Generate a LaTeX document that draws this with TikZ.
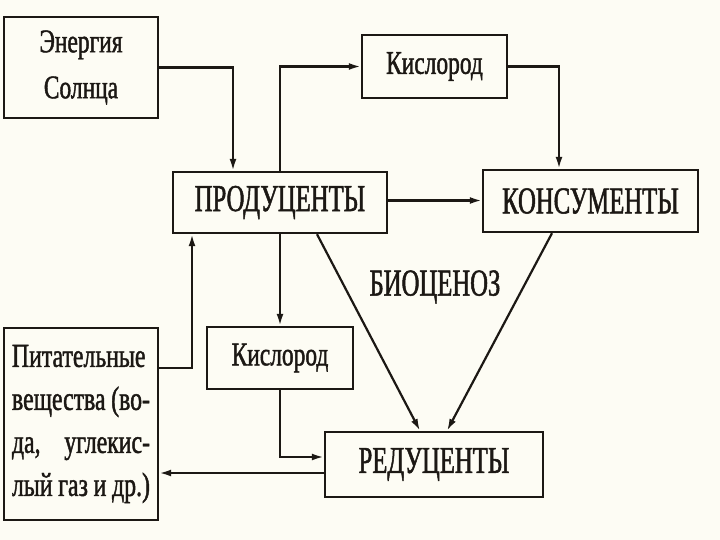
\documentclass[tikz,border=0pt]{standalone}
\usepackage{fontspec}
\setmainfont[FakeStretch=0.71,FakeBold=1.3]{Liberation Serif}
\newfontfamily\capsfont[FakeStretch=0.65,FakeBold=1.3]{Liberation Serif}
\usetikzlibrary{arrows.meta,calc}
\definecolor{ink}{RGB}{28,24,20}
\definecolor{paper}{RGB}{253,252,244}
\tikzset{
  box/.style={draw=ink,line width=2.4pt,fill=paper,text=ink,inner sep=0pt,anchor=center},
  capt/.style={font=\capsfont\fontsize{38}{40}\selectfont},
  lowt/.style={font=\fontsize{33}{46}\selectfont},
  conn/.style={draw=ink,line width=2.2pt},
  arr/.style={conn,-{Latex[length=12pt,width=7pt]}}
}
\begin{document}
\begin{tikzpicture}[x=1pt,y=-1pt]
\useasboundingbox (0,0) rectangle (720,540);
\fill[paper] (0,0) rectangle (720,540);
\node[box,lowt,align=center,minimum width=154pt,minimum height=101pt] (energy) at (81,67.5) {Энергия\\Солнца};
\node[box,lowt,minimum width=145pt,minimum height=63pt] (kis1) at (434.5,66.5) {Кислород};
\node[box,capt,minimum width=214pt,minimum height=61pt] (prod) at (280,202.5) {ПРОДУЦЕНТЫ};
\node[box,capt,minimum width=215pt,minimum height=62pt] (cons) at (590.5,201) {КОНСУМЕНТЫ};
\node[box,lowt,minimum width=146pt,minimum height=62pt] (kis2) at (280,358) {Кислород};
\node[box,capt,minimum width=218pt,minimum height=65pt] (red) at (434,464.5) {РЕДУЦЕНТЫ};
\node[box,lowt,minimum width=154pt,minimum height=192pt,align=left,font=\fontsize{33.5}{43}\selectfont] (pit) at (81,424)
 {\makebox[138pt][l]{Питательные}\\\makebox[138pt][s]{вещества (во-}\\\makebox[138pt][s]{да, углекис-}\\\makebox[138pt][s]{лый газ и др.)}};
\node[capt,text=ink] (bio) at (435,287) {БИОЦЕНОЗ};
\draw[arr] (energy.east) -| ([xshift=-47pt]prod.north);
\draw[arr] (prod.north) |- (kis1.west);
\draw[arr] (kis1.east) -| ([xshift=-31.5pt]cons.north);
\draw[arr] ([yshift=2pt]prod.east) -- ([yshift=2pt]prod.east -| cons.west);
\draw[arr] ([yshift=56pt]pit.east) -| ([xshift=-88pt]prod.south);
\draw[arr] (prod.south) -- (kis2.north);
\draw[arr] (kis2.south) |- ([yshift=7.5pt]red.west);
\draw[arr] ([yshift=-8.5pt]red.west) -- ([yshift=-8.5pt]red.west -| pit.east);
\draw[arr] ([xshift=37pt]prod.south) -- ([xshift=-14pt]red.north);
\draw[arr] ([xshift=-38.5pt]cons.south) -- ([xshift=13pt]red.north);
\end{tikzpicture}
\end{document}
